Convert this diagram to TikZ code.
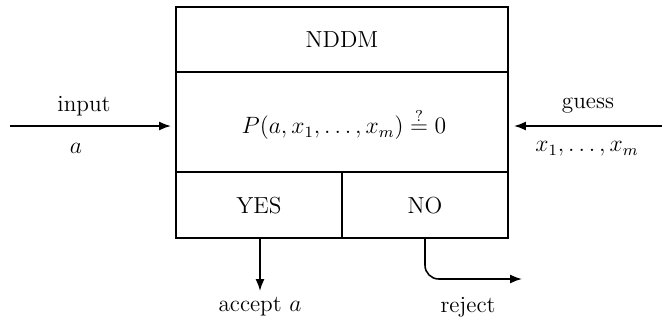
\documentclass[tikz,border=0pt]{standalone}
\usetikzlibrary{arrows.meta}
\begin{document}
\begin{tikzpicture}[x=0.508pt,y=-0.508pt,
  box/.style={draw,line width=0.8pt},
  arr/.style={line width=0.8pt,-{Latex[length=6pt,width=4.5pt]}},
  lbl/.style={inner sep=0pt,anchor=center,font=\fontsize{11.8pt}{14pt}\selectfont}]
\useasboundingbox (0,0) rectangle (662,324);
\draw[box] (176,7) rectangle (508,238);
\draw[box] (176,72) -- (508,72);
\draw[box] (176,172) -- (508,172);
\draw[box] (342,172) -- (342,238);
\node[lbl] (title) at (342,40) {NDDM};
\node[lbl] (eq) at (344,124) {$P(a,x_1,\ldots,x_m)\stackrel{?}{=}0$};
\node[lbl] (yes) at (259,206) {YES};
\node[lbl] (no) at (425,206) {NO};
\coordinate (inS) at (10,126);
\coordinate (inE) at (171,126);
\coordinate (gS) at (662,126);
\coordinate (gE) at (514,126);
\node[lbl] (input) at (84,106) {input};
\node[lbl] (ain) at (76,148) {$a$};
\node[lbl] (guess) at (588,106) {guess};
\node[lbl] (xs) at (587,149) {$x_1,\ldots,x_m$};
\coordinate (accS) at (260,238);
\coordinate (accE) at (260,291);
\coordinate (rejS) at (425,238);
\coordinate (rejC) at (425,279);
\coordinate (rejE) at (522,279);
\node[lbl] (acc) at (260,307) {accept $a$};
\node[lbl] (rej) at (468,307) {reject};
\draw[arr] (inS) -- (inE);
\draw[arr] (gS) -- (gE);
\draw[arr] (accS) -- (accE);
\draw[arr,rounded corners=7pt] (rejS) -- (rejC) -- (rejE);
\end{tikzpicture}
\end{document}
